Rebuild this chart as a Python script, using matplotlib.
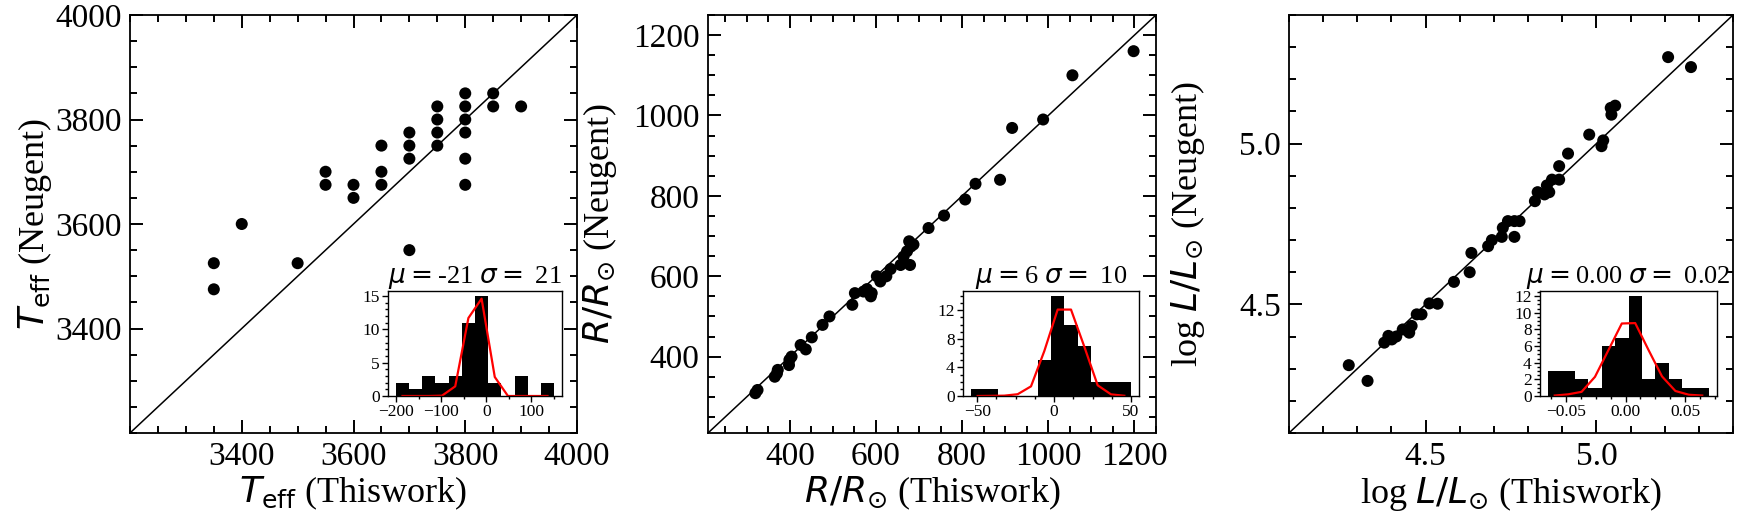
import numpy as np
import matplotlib
matplotlib.use("Agg")
import matplotlib.pyplot as plt
from matplotlib.ticker import MultipleLocator, FixedLocator, FormatStrFormatter, FuncFormatter

plt.rcParams['font.family'] = ['Liberation Serif', 'DejaVu Serif']
plt.rcParams['mathtext.fontset'] = 'dejavusans'
plt.rcParams['axes.linewidth'] = 1.3

# ---------------- Panel 1 : Teff ----------------
teff_this = [3350, 3350, 3400, 3500, 3550, 3550, 3600, 3600, 3650, 3650, 3650,
             3700, 3700, 3700, 3700, 3750, 3750, 3750, 3750, 3800, 3800, 3800,
             3800, 3800, 3800, 3850, 3850, 3900]
teff_neu = [3525, 3475, 3600, 3525, 3700, 3675, 3675, 3650, 3750, 3700, 3675,
            3775, 3750, 3725, 3550, 3825, 3800, 3775, 3750, 3850, 3825, 3800,
            3775, 3725, 3675, 3850, 3825, 3825]
teff_lim = [3200, 4000]
teff_ticks = [3400, 3600, 3800, 4000]
teff_hist_edges = np.linspace(-200, 150, 13)
teff_hist_counts = [2, 1, 3, 2, 3, 11, 15, 2, 0, 3, 0, 2]
teff_fit = [0, 0, 0, 0.05, 1.45, 11.7, 14.6, 2.85, 0, 0, 0, 0]
teff_title = r"$\mu = $-21 $\sigma = $ 21"

# ---------------- Panel 2 : Radius ----------------
rad_this = [320, 325, 365, 370, 372, 398, 399, 404, 425, 437, 451, 476, 492,
            545, 551, 571, 579, 588, 590, 602, 610, 624, 634, 657, 664, 672,
            677, 681, 679, 687, 722, 758, 807, 831, 888, 916, 988, 1056, 1198]
rad_neu = [309, 317, 350, 358, 367, 379, 392, 400, 429, 418, 448, 479, 500,
           529, 558, 562, 568, 550, 558, 600, 587, 600, 618, 628, 649, 662,
           687, 674, 628, 679, 720, 751, 791, 830, 840, 969, 990, 1100, 1160]
rad_lim = [210, 1250]
rad_ticks = [400, 600, 800, 1000, 1200]
rad_hist_edges = np.linspace(-54, 50, 13)
rad_hist_counts = [1, 1, 0, 0, 0, 5, 14, 10, 7, 2, 2, 2]
rad_fit = [0.0, 0.02, 0.05, 0.25, 1.35, 6.3, 12.1, 12.1, 6.9, 1.5, 0.23, 0.03]
rad_title = r"$\mu = $6 $\sigma = $ 10"

# ---------------- Panel 3 : Luminosity ----------------
lum_this = [4.275, 4.330, 4.379, 4.391, 4.401, 4.414, 4.433, 4.452, 4.459,
            4.474, 4.488, 4.511, 4.535, 4.583, 4.629, 4.634, 4.683, 4.694,
            4.723, 4.726, 4.741, 4.760, 4.760, 4.775, 4.820, 4.828, 4.848,
            4.855, 4.862, 4.870, 4.891, 4.891, 4.917, 4.979, 5.015, 5.020,
            5.044, 5.042, 5.055, 5.210, 5.277]
lum_neu = [4.311, 4.262, 4.381, 4.402, 4.391, 4.400, 4.422, 4.412, 4.433,
           4.469, 4.469, 4.503, 4.502, 4.570, 4.600, 4.660, 4.681, 4.700,
           4.710, 4.738, 4.759, 4.710, 4.759, 4.759, 4.821, 4.849, 4.842,
           4.870, 4.849, 4.888, 4.888, 4.930, 4.969, 5.028, 4.992, 5.010,
           5.090, 5.111, 5.118, 5.269, 5.238]
lum_lim = [4.1, 5.4]
lum_ticks = [4.5, 5.0]
lum_hist_edges = np.linspace(-0.065, 0.07, 13)
lum_hist_counts = [3, 3, 2, 1, 6, 7, 12, 2, 4, 2, 1, 1]
lum_fit = [0.05, 0.2, 0.5, 2.3, 5.5, 8.7, 8.75, 5.5, 2.35, 0.6, 0.15, 0.05]
lum_title = r"$\mu = $0.00 $\sigma = $ 0.02"

W, H = 1760, 528
fig = plt.figure(figsize=(W / 100, H / 100), dpi=100)

def frac(l, r, t, b):
    return [l / W, (H - b) / H, (r - l) / W, (b - t) / H]

panels = [
    dict(x=teff_this, y=teff_neu, lim=teff_lim, ticks=teff_ticks, minor=50,
         xl=r"$T_{\rm eff}$ (Thiswork)", yl=r"$T_{\rm eff}$ (Neugent)",
         box=(130, 577, 15, 433), inset=(388, 562, 291, 396),
         edges=teff_hist_edges, counts=teff_hist_counts, fit=teff_fit,
         title=teff_title, iy=[0, 5, 10, 15], iyminor=1, ixmaj=100, ixmin=50,
         ylpad=1, fmt=None, ixfmt=None),
    dict(x=rad_this, y=rad_neu, lim=rad_lim, ticks=rad_ticks, minor=50,
         xl=r"$R/R_{\odot}$ (Thiswork)", yl=r"$R/R_{\odot}$ (Neugent)",
         box=(708, 1156, 15, 433), inset=(963, 1139, 291, 396),
         edges=rad_hist_edges, counts=rad_hist_counts, fit=rad_fit,
         title=rad_title, iy=[0, 4, 8, 12], iyminor=1, ixmaj=50, ixmin=12.5,
         ylpad=10, fmt=None, ixfmt=None),
    dict(x=lum_this, y=lum_neu, lim=lum_lim, ticks=lum_ticks, minor=0.1,
         xl=r"log $L/L_{\odot}$ (Thiswork)", yl=r"log $L/L_{\odot}$ (Neugent)",
         box=(1289, 1733, 15, 433), inset=(1540, 1717, 291, 396),
         edges=lum_hist_edges, counts=lum_hist_counts, fit=lum_fit,
         title=lum_title, iy=[0, 2, 4, 6, 8, 10, 12], iyminor=0.5,
         ixmaj=0.05, ixmin=0.0125, ylpad=23, fmt='%.1f', ixfmt='%.2f'),
]

for p in panels:
    ax = fig.add_axes(frac(*p['box']))
    ax.plot(p['lim'], p['lim'], color='black', lw=1.1, zorder=1)
    ax.scatter(p['x'], p['y'], s=75, color='black', edgecolors='none', zorder=2)
    ax.set_xlim(p['lim'])
    ax.set_ylim(p['lim'])
    ax.xaxis.set_major_locator(FixedLocator(p['ticks']))
    ax.yaxis.set_major_locator(FixedLocator(p['ticks']))
    ax.xaxis.set_minor_locator(MultipleLocator(p['minor']))
    ax.yaxis.set_minor_locator(MultipleLocator(p['minor']))
    if p['fmt']:
        ax.xaxis.set_major_formatter(FormatStrFormatter(p['fmt']))
        ax.yaxis.set_major_formatter(FormatStrFormatter(p['fmt']))
    ax.tick_params(which='both', direction='in', top=True, right=True,
                   labelsize=24, width=1.4, pad=6)
    ax.tick_params(which='major', length=9.5)
    ax.tick_params(which='minor', length=5)
    ax.set_xlabel(p['xl'], fontsize=26, labelpad=2)
    ax.set_ylabel(p['yl'], fontsize=26, labelpad=p['ylpad'])

    ins = fig.add_axes(frac(*p['inset']))
    ins.stairs(p['counts'], p['edges'], fill=True, color='black')
    centers = 0.5 * (p['edges'][:-1] + p['edges'][1:])
    ins.plot(centers, p['fit'], color='red', lw=1.6)
    ins.set_ylim(0, max(p['counts']) * 1.05)
    ins.yaxis.set_major_locator(FixedLocator(p['iy']))
    ins.yaxis.set_minor_locator(MultipleLocator(p['iyminor']))
    ins.xaxis.set_major_locator(MultipleLocator(p['ixmaj']))
    ins.xaxis.set_minor_locator(MultipleLocator(p['ixmin']))
    if p['ixfmt']:
        f = p['ixfmt']
        ins.xaxis.set_major_formatter(FuncFormatter(
            lambda v, pos, f=f: (f % v).replace('-', '\u2212')))
    ins.tick_params(which='both', direction='out', labelsize=12.5, width=1.0, pad=2)
    ins.tick_params(which='major', length=4)
    ins.tick_params(which='minor', length=2.5)
    for sp in ins.spines.values():
        sp.set_linewidth(1.0)
    ins.set_title(p['title'], fontsize=19, pad=3)

fig.savefig("out.png", dpi=100)
